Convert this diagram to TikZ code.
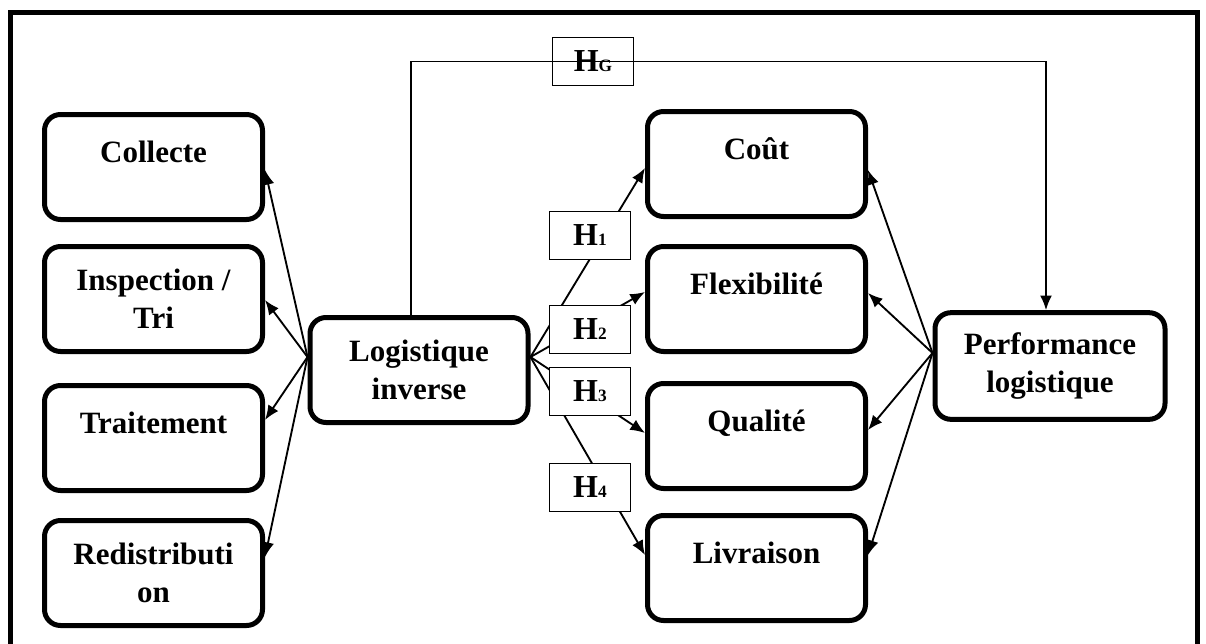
\documentclass[tikz,border=0pt]{standalone}
\usepackage{fontspec}
\setmainfont{Liberation Serif}
\usetikzlibrary{arrows.meta,calc}
\begin{document}
\begin{tikzpicture}[x=0.75pt,y=-0.75pt,
 box/.style={draw, line width=3.75pt, rounded corners=12pt, minimum width=163.5pt, minimum height=78.75pt, align=center, font=\fontsize{23.25}{28.5}\selectfont\bfseries, inner sep=0pt},
 one/.style={text height=15pt, text depth=22.5pt},
 hbox/.style={draw, line width=0.75pt, minimum width=60.75pt, minimum height=36pt, inner sep=0pt, font=\fontsize{24}{26}\selectfont\bfseries},
 conn/.style={line width=1.4pt, -{Latex[length=11pt,width=9pt]}}]
\clip (0,0) rectangle (1206,643);
\fill[white] (0,0) rectangle (1206,643);
\draw[line width=3.75pt] (10,660) -- (10,12) -- (1197,12) -- (1197,660);

\node[box,one] (col) at (153.5,167) {Collecte};
\node[box] (ins) at (153.5,299) {Inspection /\\Tri};
\node[box,one] (tra) at (153.5,438) {Traitement};
\node[box] (red) at (153.5,573) {Redistributi\\on};
\node[box] (li) at (419,370) {Logistique\\inverse};
\node[box,one] (cou) at (756.5,164) {Coût};
\node[box,one] (fle) at (756.5,299) {Flexibilité};
\node[box,one] (qua) at (756.5,436) {Qualité};
\node[box,one] (liv) at (756.5,568) {Livraison};
\node[box, minimum width=172.5pt, minimum height=80pt] (per) at (1050,366) {Performance\\logistique};

\coordinate (lio) at ($(li.west)+(0,-13)$);
\coordinate (lie) at ($(li.east)+(0,-13)$);
\coordinate (peo) at ($(per.west)+(0,-13)$);

\draw[conn] (lio) -- ($(col.east)+(0,3)$);
\draw[conn] (lio) -- ($(ins.east)+(0,1)$);
\draw[conn] (lio) -- ($(tra.east)+(0,-18)$);
\draw[conn] (lio) -- ($(red.east)+(0,-16)$);

\draw[conn] (lie) -- ($(cou.west)+(0,4)$);
\draw[conn] (lie) -- ($(fle.west)+(0,-7)$);
\draw[conn] (lie) -- ($(qua.west)+(0,-3)$);
\draw[conn] (lie) -- ($(liv.west)+(0,-13)$);

\draw[conn] (peo) -- ($(cou.east)+(0,6)$);
\draw[conn] (peo) -- ($(fle.east)+(0,-6)$);
\draw[conn] (peo) -- ($(qua.east)+(0,-6)$);
\draw[conn] (peo) -- ($(liv.east)+(0,-13)$);

\node[hbox] (hg) at (593,61.5) {H{\fontsize{13}{13}\selectfont G}};
\draw[conn] ($(li.north)+(-8,0)$) |- (hg.center) -| ($(per.north)+(-4,0)$);

\node[hbox,fill=white] (h1) at (590,235.5) {H{\fontsize{13}{13}\selectfont 1}};
\node[hbox,fill=white] (h2) at (590,329.5) {H{\fontsize{13}{13}\selectfont 2}};
\node[hbox,fill=white] (h3) at (590,391) {H{\fontsize{13}{13}\selectfont 3}};
\node[hbox,fill=white] (h4) at (590,487.5) {H{\fontsize{13}{13}\selectfont 4}};
\end{tikzpicture}
\end{document}
